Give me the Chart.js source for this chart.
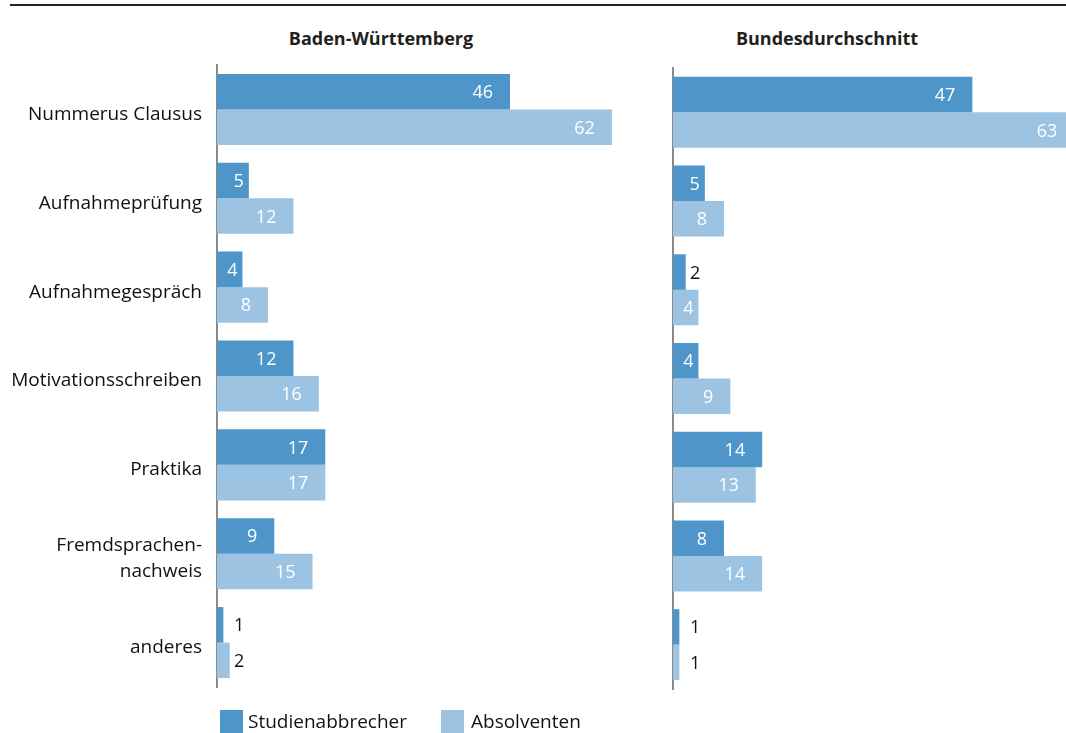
<!DOCTYPE html>
<html lang="de">
<head>
<meta charset="utf-8">
<title>Zulassungsvoraussetzungen</title>
<script src="https://cdn.jsdelivr.net/npm/chart.js@4.4.1/dist/chart.umd.min.js"></script>
<style>
	html, body { margin: 0; padding: 0; width: 1066px; height: 733px; overflow: hidden; background: #fff; }
	body { position: relative; font-family: "Open Sans", sans-serif; color: #111; }
	.rule { position: absolute; left: 10px; top: 4px; width: 1056px; height: 1.5px; background: #222; }
	.panel-title { position: absolute; top: 29px; width: 400px; text-align: center; font-size: 18px; line-height: 18px; font-weight: 700; color: #231f20; }
	.chart-box { position: absolute; top: 0; height: 733px; }
	.legend-item { position: absolute; top: 712px; font-size: 19px; line-height: 19px; color: #111; }
	.legend-box { position: absolute; top: 710px; width: 23px; height: 23px; }
</style>
</head>
<body>
<div class="rule"></div>
<div class="panel-title" style="left: 181px;">Baden-Württemberg</div>
<div class="panel-title" style="left: 627px;">Bundesdurchschnitt</div>

<div class="chart-box" style="left: 0; width: 640px;"><canvas id="chartLeft"></canvas></div>
<div class="chart-box" style="left: 663px; width: 424px;"><canvas id="chartRight"></canvas></div>

<div class="legend-box" style="left: 220px; background: #4e96c9;"></div>
<div class="legend-item" style="left: 248px;">Studienabbrecher</div>
<div class="legend-box" style="left: 441px; background: #9cc3e2;"></div>
<div class="legend-item" style="left: 471px;">Absolventen</div>

<script>
	// categories
	var categories = [
		'Nummerus Clausus',
		'Aufnahmeprüfung',
		'Aufnahmegespräch',
		'Motivationsschreiben',
		'Praktika',
		['Fremdsprachen-', 'nachweis'],
		'anderes'
	];

	// Baden-Württemberg (in %)
	var bwAbbrecher = [46, 5, 4, 12, 17, 9, 1];
	var bwAbsolventen = [62, 12, 8, 16, 17, 15, 2];

	// Bundesdurchschnitt (in %)
	var bundAbbrecher = [47, 5, 2, 4, 14, 8, 1];
	var bundAbsolventen = [63, 8, 4, 9, 13, 14, 1];

	var seriesNames = ['Studienabbrecher', 'Absolventen'];
	var xMax = 65;

	var darkBlue = '#4e96c9';
	var lightBlue = '#9cc3e2';
	var fontFamily = '"Open Sans", sans-serif';

	// value labels: right aligned inside the bar, outside for very short bars
	var valueLabels = {
		id: 'valueLabels',
		afterDatasetsDraw: function (chart) {
			var ctx = chart.ctx;
			ctx.save();
			ctx.font = '18px ' + fontFamily;
			ctx.textAlign = 'left';
			ctx.textBaseline = 'alphabetic';
			chart.data.datasets.forEach(function (ds, di) {
				var meta = chart.getDatasetMeta(di);
				meta.data.forEach(function (bar, i) {
					var value = ds.data[i];
					var text = String(value);
					var w = ctx.measureText(text).width;
					var start = bar.base;
					var end = bar.x;
					var len = end - start;
					var x;
					if (value >= 4) {
						ctx.fillStyle = '#ffffff';
						if (len - 17 - w >= 10) x = end - 17 - w;
						else x = end - 5 - w;
					} else {
						ctx.fillStyle = '#111';
						x = start + 17;
					}
					ctx.fillText(text, x, bar.y + 6.5);
				});
			});
			ctx.restore();
		}
	};

	var makeDatasets = function (first, second) {
		return [
			{ label: seriesNames[0], data: first, backgroundColor: darkBlue },
			{ label: seriesNames[1], data: second, backgroundColor: lightBlue }
		];
	};

	var makeOptions = function (showLabels, padding) {
		return {
			indexAxis: 'y',
			responsive: true,
			maintainAspectRatio: false,
			animation: false,
			layout: { padding: padding },
			datasets: {
				bar: { categoryPercentage: 0.8, barPercentage: 1.0 }
			},
			plugins: {
				legend: { display: false },
				tooltip: { enabled: false }
			},
			scales: {
				x: {
					display: false,
					min: 0,
					max: xMax
				},
				y: {
					grid: { display: false, drawTicks: false },
					border: { display: true, color: '#8a8a8a', width: 2 },
					ticks: {
						display: showLabels,
						padding: 15,
						labelOffset: 5,
						color: '#111',
						font: { family: fontFamily, size: 19, lineHeight: 1.4 }
					},
					afterFit: function (scale) {
						scale.width = showLabels ? 217 : 0;
					}
				}
			}
		};
	};

	new Chart(document.getElementById('chartLeft'), {
		type: 'bar',
		data: { labels: categories, datasets: makeDatasets(bwAbbrecher, bwAbsolventen) },
		options: makeOptions(true, { top: 65, bottom: 46, left: 0, right: 9 }),
		plugins: [valueLabels]
	});

	new Chart(document.getElementById('chartRight'), {
		type: 'bar',
		data: { labels: categories, datasets: makeDatasets(bundAbbrecher, bundAbsolventen) },
		options: makeOptions(false, { top: 68, bottom: 44, left: 10, right: 0 }),
		plugins: [valueLabels]
	});
</script>
</body>
</html>
